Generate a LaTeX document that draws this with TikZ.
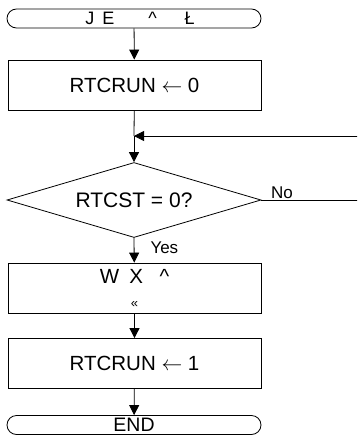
\documentclass[tikz,border=0pt]{standalone}
\usepackage{fontspec}
\setmainfont{Liberation Sans}
\usetikzlibrary{arrows.meta,positioning,shapes.geometric}

\tikzset{
  term/.style={draw,rounded corners=9.5pt,minimum width=254pt,minimum height=19pt,inner sep=0pt,font=\fontsize{19.5}{20}\selectfont},
  proc/.style={draw,minimum width=253pt,minimum height=50pt,inner sep=0pt,font=\fontsize{20.5}{26}\selectfont,align=center},
  cond/.style={draw,diamond,aspect=3.39,minimum width=254pt,minimum height=75pt,inner sep=0pt,font=\fontsize{21}{22}\selectfont},
  flow/.style={-{Triangle[length=10pt,width=10pt]}},
  lbl/.style={font=\fontsize{17}{19}\selectfont,inner sep=1pt}
}

\begin{document}
\begin{tikzpicture}[x=1pt,y=-1pt,line width=0.8pt]
\useasboundingbox (0,0) rectangle (357,436);
\clip (0,0) rectangle (357,436);
\node [term] (start) at (134,18.5) {};
\node [font=\fontsize{18}{20}\selectfont,inner sep=0pt] (title) at (140,18.5) {J\hspace{8pt}E\hspace{34pt}\textasciicircum\hspace{28pt}Ł};
\node [proc] (clr) at (134.5,85) {RTCRUN $\leftarrow$ 0};
\node [cond] (chk) at (134,200) {RTCST = 0?};
\node [proc] (wait) at (134.5,288) {W\hspace{0.5em}X\hspace{0.8em}\textasciicircum\\[-2pt]{\fontsize{13}{14}\selectfont «}};
\node [proc] (set) at (134.5,363.5) {RTCRUN $\leftarrow$ 1};
\node [term] (stop) at (134,425) {END};
\coordinate (join) at (134,136);
\coordinate (back) at (358,136);
\coordinate (out) at (358,200);

\draw [flow] (start) -- (clr);
\draw (clr) -- (join);
\draw [flow] (join) -- (chk.north);
\draw [flow] (back) -- (join);
\draw (chk.east) -- node [lbl,above,pos=0.12,xshift=9pt] {No} (out);
\draw [flow] (chk.south) -- node [lbl,right,pos=0.4,xshift=15pt] {Yes} (wait);
\draw [flow] (wait) -- (set);
\draw [flow] (set) -- (stop);
\end{tikzpicture}
\end{document}
